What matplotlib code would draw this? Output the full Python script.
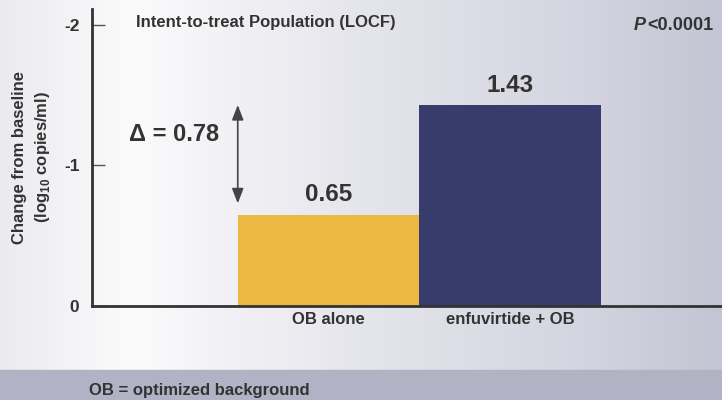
"""Viral load reduction at week 24: OB alone vs enfuvirtide + OB (ITT, LOCF)."""
import matplotlib
matplotlib.use("Agg")
import matplotlib.pyplot as plt
import numpy as np
from matplotlib.colors import LinearSegmentedColormap
from matplotlib.patches import Rectangle

# data
groups = ["OB alone", "enfuvirtide + OB"]
reduction = [0.65, 1.43]          # log10 copies/ml drop from baseline
bar_colors = ["#ebb942", "#383c6c"]
delta = 0.78
y_ticks = [0, -1, -2]

TXT = "#333333"
FS = 12
plt.rcParams["font.family"] = ["Liberation Sans", "DejaVu Sans"]
plt.rcParams["font.weight"] = "bold"
plt.rcParams["axes.unicode_minus"] = False
plt.rcParams["mathtext.fontset"] = "custom"
plt.rcParams["mathtext.rm"] = "Liberation Sans:bold"
plt.rcParams["mathtext.bf"] = "Liberation Sans:bold"

W, H = 722, 400
fig = plt.figure(figsize=(W / 100, H / 100), dpi=100)

# shaded backdrop: near white on the left fading to grey-blue on the right
bg = fig.add_axes([0, 0, 1, 1], zorder=0)
bg.axis("off")
cmap = LinearSegmentedColormap.from_list(
    "bg", [(0.0, "#ebebef"), (0.18, "#fbfbfc"), (0.5, "#e5e5ec"),
           (0.8, "#d4d5e0"), (1.0, "#c3c5d4")])
grad = np.linspace(0, 1, 512)[None, :]
bg.imshow(grad, aspect="auto", cmap=cmap, extent=[0, 1, 0, 1])
bg.set_xlim(0, 1)
bg.set_ylim(0, 1)
bg.add_patch(Rectangle((0, 0), 1, 30 / H, color="#b1b3c4", zorder=2))

ax = fig.add_axes([92 / W, 1 - 306 / H, 1 - 92 / W, (306 - 9) / H], zorder=1)
ax.set_facecolor("none")

x = np.arange(len(groups))
ax.bar(x, [-r for r in reduction], width=1.0, color=bar_colors, zorder=2)
for xi, r in zip(x, reduction):
    ax.text(xi, -r - 0.06, f"{r:.2f}", ha="center", va="bottom",
            fontsize=17.5, color=TXT)

ax.set_xlim(-1.303, 2.168)
ax.set_ylim(0, -2.113)

# double arrow showing the difference between the two groups
ax.annotate("", xy=(-0.5, -reduction[1]), xytext=(-0.5, -reduction[0] - 0.08),
            arrowprops=dict(arrowstyle="<|-|>,head_length=0.9,head_width=0.35",
                            color="#444444", lw=1.2, shrinkA=0, shrinkB=0))
ax.text(-0.6, -(reduction[0] + reduction[1]) / 2 - 0.18, f"Δ = {delta:.2f}",
        ha="right", va="center", fontsize=17, color=TXT)

for s in ["top", "right"]:
    ax.spines[s].set_visible(False)
for s in ["left", "bottom"]:
    ax.spines[s].set_color(TXT)
    ax.spines[s].set_linewidth(2)

ax.set_yticks(y_ticks)
ax.set_yticklabels([str(t) for t in y_ticks])
ax.tick_params(axis="y", direction="in", length=9, width=1, color="#555555",
               pad=9, labelsize=12.5, labelcolor=TXT)
ax.set_xticks(x)
ax.set_xticklabels(groups)
ax.tick_params(axis="x", length=0, pad=4, labelsize=FS, labelcolor=TXT)

fig.text(20 / W, 1 - 157 / H, "Change from baseline", rotation=90,
         ha="center", va="center", fontsize=FS, color=TXT)
fig.text(43 / W, 1 - 157 / H, "(log$_{10}$ copies/ml)", rotation=90,
         ha="center", va="center", fontsize=FS, color=TXT)

fig.text(136 / W, 1 - 22 / H, "Intent-to-treat Population (LOCF)",
         ha="left", va="center", fontsize=FS, color=TXT)
fig.text(646 / W, 1 - 25 / H, "P", ha="right", va="center", fontsize=13,
         style="italic", color=TXT)
fig.text(647 / W, 1 - 25 / H, "<0.0001", ha="left", va="center",
         fontsize=13, color=TXT)

fig.text(89 / W, 1 - 390 / H, "OB = optimized background", ha="left",
         va="center", fontsize=FS, color=TXT)

fig.savefig("out.png", dpi=100)
